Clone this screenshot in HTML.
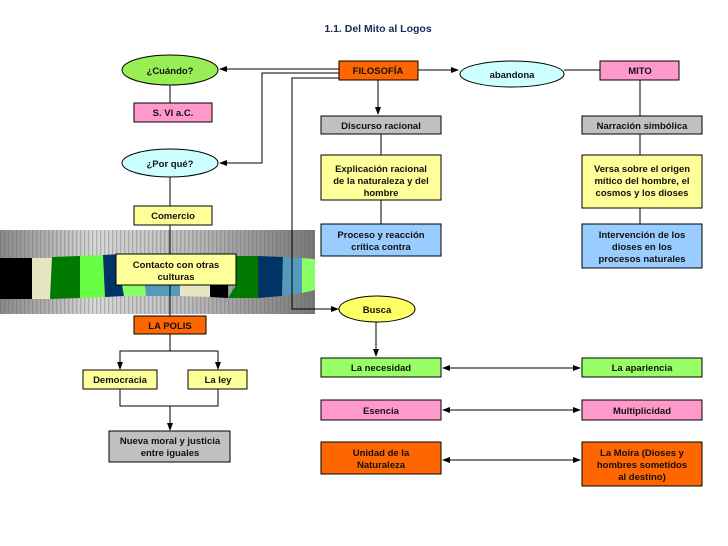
<!DOCTYPE html>
<html><head><meta charset="utf-8"><style>
body{margin:0;background:#fff}
svg{display:block;font-family:"Liberation Sans",Arial,sans-serif;font-weight:bold}
text{font-size:9.5px;fill:#111;text-anchor:middle}
</style></head><body>
<svg width="728" height="546" viewBox="0 0 728 546" xmlns="http://www.w3.org/2000/svg">
<defs>
<marker id="a" markerWidth="8" markerHeight="8" refX="7" refY="4" orient="auto" markerUnits="userSpaceOnUse"><path d="M0,1 L8,4 L0,7z" fill="#000"/></marker>
<marker id="b" markerWidth="8" markerHeight="8" refX="1" refY="4" orient="auto" markerUnits="userSpaceOnUse"><path d="M8,1 L0,4 L8,7z" fill="#000"/></marker>
<linearGradient id="g" x1="0" x2="1"><stop offset="0" stop-color="#888"/><stop offset="0.3" stop-color="#d8d8d8"/><stop offset="0.6" stop-color="#bbb"/><stop offset="1" stop-color="#777"/></linearGradient>
<pattern id="p" width="4" height="4" patternUnits="userSpaceOnUse"><rect width="1.3" height="4" fill="#666" opacity="0.35"/></pattern>
</defs>
<text x="378" y="32" style="font-size:10.5px;fill:#1a2a55">1.1. Del Mito al Logos</text>

<!-- band -->
<rect x="0" y="230" width="315" height="84" fill="url(#g)"/>
<rect x="0" y="230" width="315" height="84" fill="url(#p)"/>
<g>
<polygon points="0,258 32,258 32,299 0,299" fill="#000"/>
<polygon points="32,258 52,258 50,299 32,299" fill="#e6e6c2"/>
<polygon points="52,257 80,256 80,298 50,299" fill="#007a00"/>
<polygon points="80,256 103,255 105,297 80,298" fill="#66ff44"/>
<polygon points="103,255 122,254 124,296 105,297" fill="#003366"/>
<polygon points="122,285 145,285 146,296 124,296" fill="#88ff66"/>
<polygon points="145,285 180,285 180,296 146,296" fill="#5599bb"/>
<polygon points="180,285 210,285 210,297 180,296" fill="#e6e6c2"/>
<polygon points="210,254 228,255 228,298 210,297" fill="#000"/>
<polygon points="236,256 258,256 258,298 228,298 236,285" fill="#007a00"/>
<polygon points="258,256 283,257 282,296 258,298" fill="#003366"/>
<polygon points="283,257 302,258 302,293 282,296" fill="#5599bb"/>
<polygon points="302,258 315,259 315,290 302,293" fill="#88ff66"/>
</g>

<g stroke="#000" stroke-width="1" fill="none">
<line x1="339" y1="69" x2="220" y2="69" marker-end="url(#a)"/>
<polyline points="339,73 262,73 262,163 220,163" marker-end="url(#a)"/>
<polyline points="339,78 292,78 292,309 338,309" marker-end="url(#a)"/>
<line x1="418" y1="70" x2="458" y2="70" marker-end="url(#a)"/>
<line x1="564" y1="70" x2="600" y2="70"/>
<line x1="378" y1="80" x2="378" y2="114" marker-end="url(#a)"/>
<line x1="381" y1="134" x2="381" y2="155"/>
<line x1="381" y1="200" x2="381" y2="224"/>
<line x1="640" y1="80" x2="640" y2="116"/>
<line x1="640" y1="134" x2="640" y2="155"/>
<line x1="640" y1="208" x2="640" y2="224"/>
<line x1="376" y1="322" x2="376" y2="356" marker-end="url(#a)"/>
<line x1="443" y1="368" x2="580" y2="368" marker-start="url(#b)" marker-end="url(#a)"/>
<line x1="443" y1="410" x2="580" y2="410" marker-start="url(#b)" marker-end="url(#a)"/>
<line x1="443" y1="460" x2="580" y2="460" marker-start="url(#b)" marker-end="url(#a)"/>
<line x1="170" y1="85" x2="170" y2="103"/>
<line x1="170" y1="177" x2="170" y2="206"/>
<line x1="170" y1="225" x2="170" y2="254"/>
<line x1="170" y1="285" x2="170" y2="316"/>
<polyline points="170,334 170,351"/>
<polyline points="120,368 120,351 218,351 218,368" />
<line x1="120" y1="360" x2="120" y2="369" marker-end="url(#a)"/>
<line x1="218" y1="360" x2="218" y2="369" marker-end="url(#a)"/>
<polyline points="120,389 120,406 218,406 218,389"/>
<line x1="170" y1="406" x2="170" y2="430" marker-end="url(#a)"/>
</g>

<g stroke="#000" stroke-width="1">
<ellipse cx="170" cy="70" rx="48" ry="15" fill="#99ee55"/>
<ellipse cx="170" cy="163" rx="48" ry="14" fill="#ccffff"/>
<ellipse cx="512" cy="74" rx="52" ry="13" fill="#ccffff"/>
<ellipse cx="377" cy="309" rx="38" ry="13" fill="#ffff66"/>
<rect x="339" y="61" width="79" height="19" fill="#ff6600"/>
<rect x="600" y="61" width="79" height="19" fill="#ff99cc"/>
<rect x="134" y="103" width="78" height="19" fill="#ff99cc"/>
<rect x="321" y="116" width="120" height="18" fill="#c0c0c0"/>
<rect x="582" y="116" width="120" height="18" fill="#c0c0c0"/>
<rect x="321" y="155" width="120" height="45" fill="#ffff99"/>
<rect x="582" y="155" width="120" height="53" fill="#ffff99"/>
<rect x="134" y="206" width="78" height="19" fill="#ffff99"/>
<rect x="321" y="224" width="120" height="32" fill="#99ccff"/>
<rect x="582" y="224" width="120" height="44" fill="#99ccff"/>
<rect x="116" y="254" width="120" height="31" fill="#ffff99"/>
<rect x="134" y="316" width="72" height="18" fill="#ff6600"/>
<rect x="83" y="370" width="74" height="19" fill="#ffff99"/>
<rect x="188" y="370" width="59" height="19" fill="#ffff99"/>
<rect x="109" y="431" width="121" height="31" fill="#c0c0c0"/>
<rect x="321" y="358" width="120" height="19" fill="#99ff66"/>
<rect x="582" y="358" width="120" height="19" fill="#99ff66"/>
<rect x="321" y="400" width="120" height="20" fill="#ff99cc"/>
<rect x="582" y="400" width="120" height="20" fill="#ff99cc"/>
<rect x="321" y="442" width="120" height="32" fill="#ff6600"/>
<rect x="582" y="442" width="120" height="44" fill="#ff6600"/>
</g>

<text x="170" y="74">¿Cuándo?</text>
<text x="170" y="167">¿Por qué?</text>
<text x="512" y="78">abandona</text>
<text x="377" y="313">Busca</text>
<text x="378" y="74">FILOSOFÍA</text>
<text x="640" y="74">MITO</text>
<text x="173" y="116">S. VI a.C.</text>
<text x="381" y="129">Discurso racional</text>
<text x="642" y="129">Narración simbólica</text>
<text x="381" y="172">Explicación racional</text>
<text x="381" y="184">de la naturaleza y del</text>
<text x="381" y="196">hombre</text>
<text x="642" y="172">Versa sobre el origen</text>
<text x="642" y="184">mítico del hombre, el</text>
<text x="642" y="196">cosmos y los dioses</text>
<text x="173" y="219">Comercio</text>
<text x="381" y="238">Proceso y reacción</text>
<text x="381" y="250">crítica contra</text>
<text x="642" y="238">Intervención de los</text>
<text x="642" y="250">dioses en los</text>
<text x="642" y="262">procesos naturales</text>
<text x="176" y="268">Contacto con otras</text>
<text x="176" y="280">culturas</text>
<text x="170" y="329">LA POLIS</text>
<text x="120" y="383">Democracia</text>
<text x="218" y="383">La ley</text>
<text x="170" y="444">Nueva moral y justicia</text>
<text x="170" y="456">entre iguales</text>
<text x="381" y="371">La necesidad</text>
<text x="642" y="371">La apariencia</text>
<text x="381" y="414">Esencia</text>
<text x="642" y="414">Multiplicidad</text>
<text x="381" y="456">Unidad de la</text>
<text x="381" y="468">Naturaleza</text>
<text x="642" y="456">La Moira (Dioses y</text>
<text x="642" y="468">hombres sometidos</text>
<text x="642" y="480">al destino)</text>
</svg>
</body></html>
